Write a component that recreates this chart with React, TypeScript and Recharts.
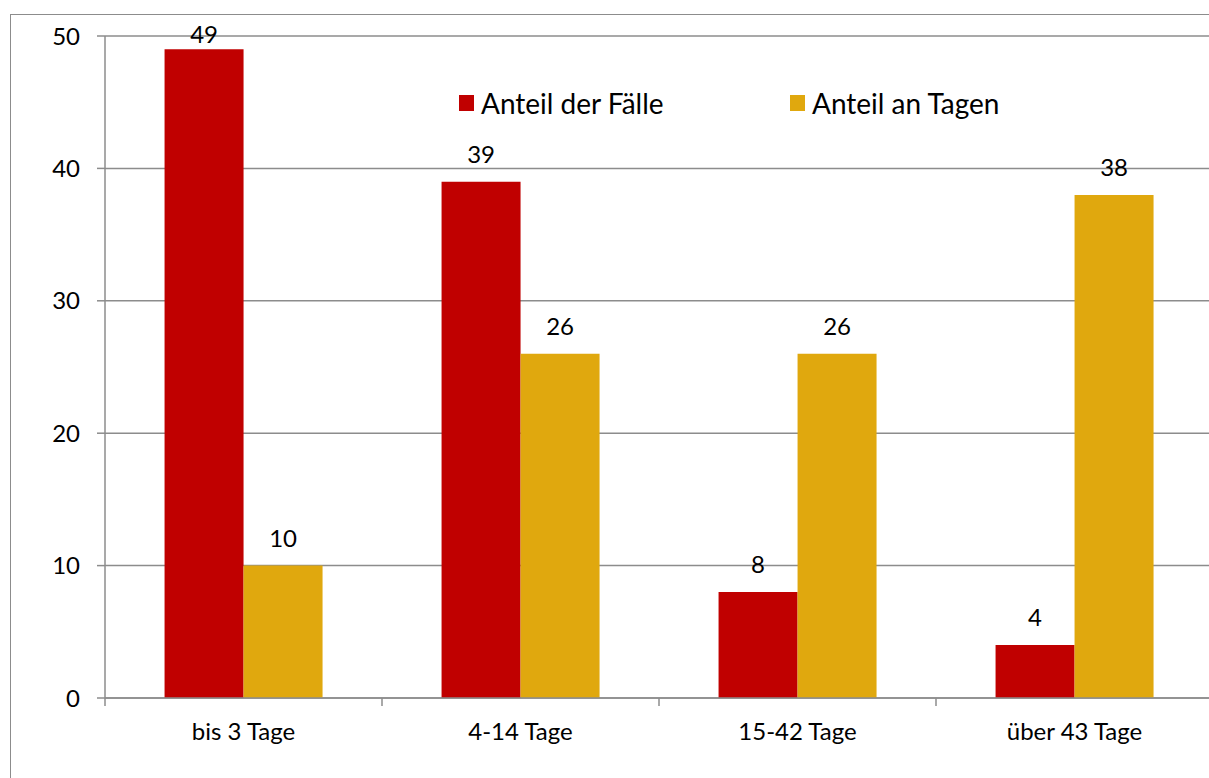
import React from 'react';
import { BarChart, Bar, XAxis, YAxis, CartesianGrid, LabelList, Legend } from 'recharts';

const categories = ['bis 3 Tage', '4-14 Tage', '15-42 Tage', 'über 43 Tage'];
const anteilFaelle = [49, 39, 8, 4];
const anteilTage = [10, 26, 26, 38];
const yTicks = [0, 10, 20, 30, 40, 50];
const seriesNames = ['Anteil der Fälle', 'Anteil an Tagen'];
const seriesColors = ['#C00000', '#E0A80E'];

const data = categories.map((c, i) => ({ name: c, faelle: anteilFaelle[i], tage: anteilTage[i] }));

const FONT = 'Lato, Carlito, Calibri, sans-serif';
const GRID = '#8c8c8c';
const PLOT_TOP = 36;
const X_TICK_SIZE = 8;
const X_TICK_MARGIN = 17;
const FS = 24;

const renderLabel = (props: any) => {
  const { x, y, width, value } = props;
  const baseline = Math.max(Number(y) - 19, PLOT_TOP + 7);
  return (
    <text x={Number(x) + Number(width) / 2} y={baseline} textAnchor="middle" fontSize={FS} fontFamily={FONT} fill="#000">
      {value}
    </text>
  );
};

const CategoryTick = (props: any) => {
  const { x, y, payload, index, visibleTicksCount } = props;
  const half = payload && typeof payload.offset === 'number' ? payload.offset : 0;
  const axisY = Number(y) - X_TICK_SIZE - X_TICK_MARGIN;
  const isLast = index === (visibleTicksCount ?? categories.length) - 1;
  return (
    <g>
      {half > 0 && (
        <line x1={x - half} x2={x - half} y1={axisY} y2={axisY + X_TICK_SIZE} stroke={GRID} strokeWidth={1.5} />
      )}
      {half > 0 && isLast && (
        <line x1={x + half} x2={x + half} y1={axisY} y2={axisY + X_TICK_SIZE} stroke={GRID} strokeWidth={1.5} />
      )}
      <text x={x} y={y} dy="0.71em" textAnchor="middle" fontSize={FS} fontFamily={FONT} fill="#000">
        {payload.value}
      </text>
    </g>
  );
};

const renderLegend = () => (
  <div style={{ display: 'flex', fontFamily: FONT, fontSize: 28, color: '#000', lineHeight: '32px' }}>
    {seriesNames.map((n, i) => (
      <div key={n} style={{ width: 331, display: 'flex', alignItems: 'center' }}>
        <span style={{ width: 15, height: 16, background: seriesColors[i], marginRight: 7, display: 'inline-block' }} />
        <span>{n}</span>
      </div>
    ))}
  </div>
);

export default function App() {
  return (
    <div style={{ position: 'absolute', left: 0, top: 0, width: 1209, height: 778, overflow: 'hidden', background: '#fff' }}>
      <div style={{ position: 'absolute', left: 10, top: 14, width: 1400, height: 1000, border: `1.5px solid ${GRID}`, boxSizing: 'border-box' }} />
      <div style={{ position: 'absolute', left: 0, top: 0 }}>
        <BarChart
          width={1230}
          height={778}
          data={data}
          margin={{ top: PLOT_TOP, right: 17, bottom: 0, left: 45 }}
          barGap={0}
          barCategoryGap="21.5%"
        >
          <CartesianGrid vertical={false} stroke={GRID} strokeWidth={1.5} />
          <XAxis
            dataKey="name"
            height={80}
            axisLine={{ stroke: GRID, strokeWidth: 1.5 }}
            tickLine={false}
            tickSize={X_TICK_SIZE}
            tickMargin={X_TICK_MARGIN}
            tick={<CategoryTick />}
            interval={0}
          />
          <YAxis
            domain={[0, 50]}
            ticks={yTicks}
            width={60}
            axisLine={{ stroke: GRID, strokeWidth: 1.5 }}
            tickLine={{ stroke: GRID, strokeWidth: 1.5 }}
            tickSize={8}
            tickMargin={17}
            tick={{ fill: '#000', fontSize: FS, fontFamily: FONT }}
          />
          <Legend
            layout="vertical"
            align="center"
            verticalAlign="middle"
            content={renderLegend}
            wrapperStyle={{ left: 459, top: 87, width: 700 }}
          />
          <Bar dataKey="faelle" name={seriesNames[0]} fill={seriesColors[0]} isAnimationActive={false}>
            <LabelList dataKey="faelle" content={renderLabel} />
          </Bar>
          <Bar dataKey="tage" name={seriesNames[1]} fill={seriesColors[1]} isAnimationActive={false}>
            <LabelList dataKey="tage" content={renderLabel} />
          </Bar>
        </BarChart>
      </div>
    </div>
  );
}
